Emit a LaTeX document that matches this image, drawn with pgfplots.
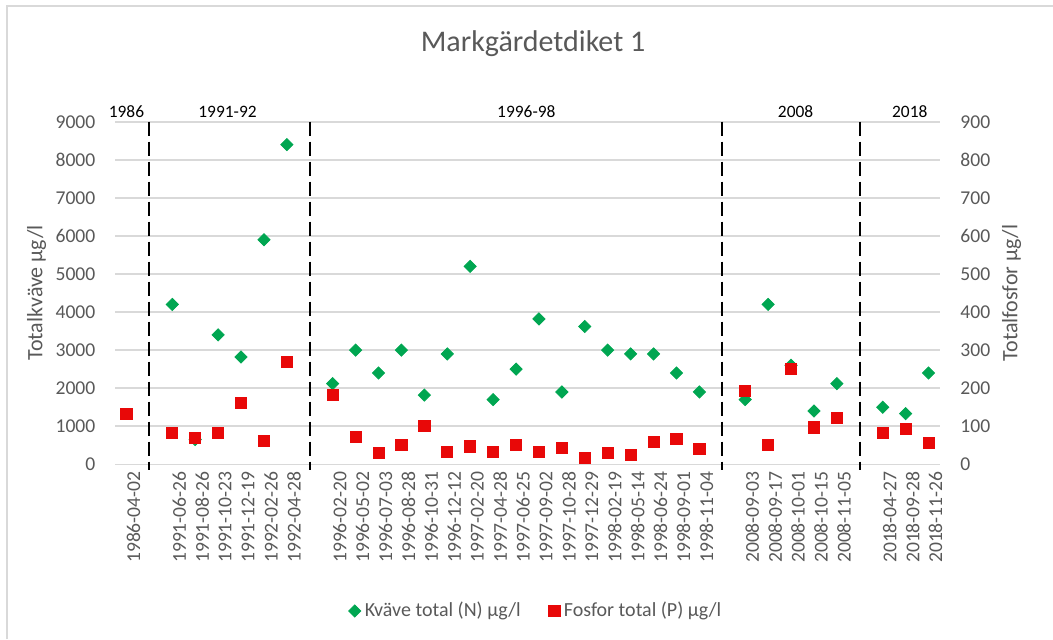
\documentclass[border=0pt]{standalone}
\usepackage{fontspec}
\setmainfont{Carlito}
\usepackage{pgfplots}
\pgfplotsset{compat=1.18}
\definecolor{txtgray}{RGB}{89,89,89}
\definecolor{gridgray}{RGB}{217,217,217}
\definecolor{kgreen}{RGB}{0,166,81}
\definecolor{pred}{RGB}{232,8,8}
\begin{document}
\begin{tikzpicture}
\useasboundingbox (0,0) rectangle (526.5pt,319.5pt);
\draw[gridgray, line width=0.7pt] (3.5pt,0pt) -- (3.5pt,316.5pt) -- (526.5pt,316.5pt);
\node[font=\fontsize{15}{18}\selectfont, text=txtgray] at (266.5pt,297.5pt) {Markgärdetdiket 1};
\begin{axis}[
  at={(57.5pt,87.35pt)}, anchor=south west,
  scale only axis, width=412.5pt, height=171.3pt,
  xmin=-0.5, xmax=35.5, ymin=0, ymax=9000,
  clip=false,
  axis line style={draw=none},
  major tick length=0pt,
  ymajorgrids, grid style={gridgray, line width=0.8pt},
  ytick={0,1000,...,9000},
  /pgf/number format/assume math mode=true,
  /pgf/number format/1000 sep={},
  yticklabel style={font=\fontsize{9.8}{11}\selectfont, text=txtgray, xshift=-6.3pt},
  xtick={0,2,3,4,5,6,7,9,10,11,12,13,14,15,16,17,18,19,20,21,22,23,24,25,27,28,29,30,31,33,34,35},
  xticklabels={1986-04-02,1991-06-26,1991-08-26,1991-10-23,1991-12-19,1992-02-26,1992-04-28,
    1996-02-20,1996-05-02,1996-07-03,1996-08-28,1996-10-31,1996-12-12,1997-02-20,1997-04-28,1997-06-25,1997-09-02,1997-10-28,1997-12-29,1998-02-19,1998-05-14,1998-06-24,1998-09-01,1998-11-04,
    2008-09-03,2008-09-17,2008-10-01,2008-10-15,2008-11-05,
    2018-04-27,2018-09-28,2018-11-26},
  xticklabel style={font=\fontsize{9.8}{11}\selectfont, text=txtgray, rotate=90, anchor=east, yshift=-3.5pt},
  ylabel={Totalkväve µg/l},
  every axis y label/.style={at={(rel axis cs:-0.0949,0.5)}, rotate=90, anchor=center, font=\fontsize{11}{13}\selectfont, text=txtgray},
  legend style={at={(rel axis cs:0.5115,-0.428)}, anchor=center, draw=none, fill=none,
    font=\fontsize{10}{12}\selectfont, text=txtgray, /tikz/every even column/.append style={column sep=12pt}},
  legend columns=2,
]
\addplot[only marks, mark=square*, mark size=2.15pt, mark options={rotate=45, fill=kgreen, draw=kgreen}] coordinates {
(2,4200) (3,650) (4,3400) (5,2820) (6,5900) (7,8400)
(9,2120) (10,3000) (11,2400) (12,3000) (13,1820) (14,2900) (15,5200) (16,1700) (17,2500) (18,3820) (19,1900) (20,3620) (21,3000) (22,2900) (23,2900) (24,2400) (25,1900)
(27,1700) (28,4200) (29,2600) (30,1400) (31,2120)
(33,1500) (34,1330) (35,2400)
};
\addlegendentry{Kväve total (N) µg/l}
\addlegendimage{only marks, mark=square*, mark size=2.8pt, mark options={fill=pred, draw=pred}}
\addlegendentry{Fosfor total (P) µg/l}
\foreach \xx in {1,8,26,32} {
  \edef\temp{\noexpand\draw[black, line width=1pt, dash pattern=on 7pt off 3pt] (axis cs:\xx,9000) -- (axis cs:\xx,-150);}
  \temp
}
\begin{scope}[font=\fontsize{8.7}{10}\selectfont, text=black]
\node at (axis cs:0,9263) {1986};
\node at (axis cs:4.41,9263) {1991-92};
\node at (axis cs:17.45,9263) {1996-98};
\node at (axis cs:29.2,9263) {2008};
\node at (axis cs:34.18,9263) {2018};
\end{scope}
\end{axis}
\begin{axis}[
  at={(57.5pt,87.35pt)}, anchor=south west,
  scale only axis, width=412.5pt, height=171.3pt,
  xmin=-0.5, xmax=35.5, ymin=0, ymax=900,
  axis x line=none,
  axis y line*=right,
  axis line style={draw=none},
  major tick length=0pt,
  ytick={0,100,...,900},
  /pgf/number format/assume math mode=true,
  yticklabel style={font=\fontsize{9.8}{11}\selectfont, text=txtgray, xshift=6.7pt},
  ylabel={Totalfosfor µg/l},
  every axis y label/.style={at={(rel axis cs:1.0869,0.5)}, rotate=90, anchor=center, font=\fontsize{11}{13}\selectfont, text=txtgray},
]
\addplot[only marks, mark=square*, mark size=2.8pt, mark options={fill=pred, draw=pred}] coordinates {
(0,133) (2,82) (3,70) (4,82) (5,161) (6,61) (7,270)
(9,182) (10,73) (11,30) (12,50) (13,100) (14,33) (15,47) (16,33) (17,50) (18,33) (19,44) (20,17) (21,30) (22,24) (23,59) (24,67) (25,40)
(27,192) (28,50) (29,251) (30,97) (31,121)
(33,83) (34,94) (35,56)
};
\end{axis}
\end{tikzpicture}
\end{document}
